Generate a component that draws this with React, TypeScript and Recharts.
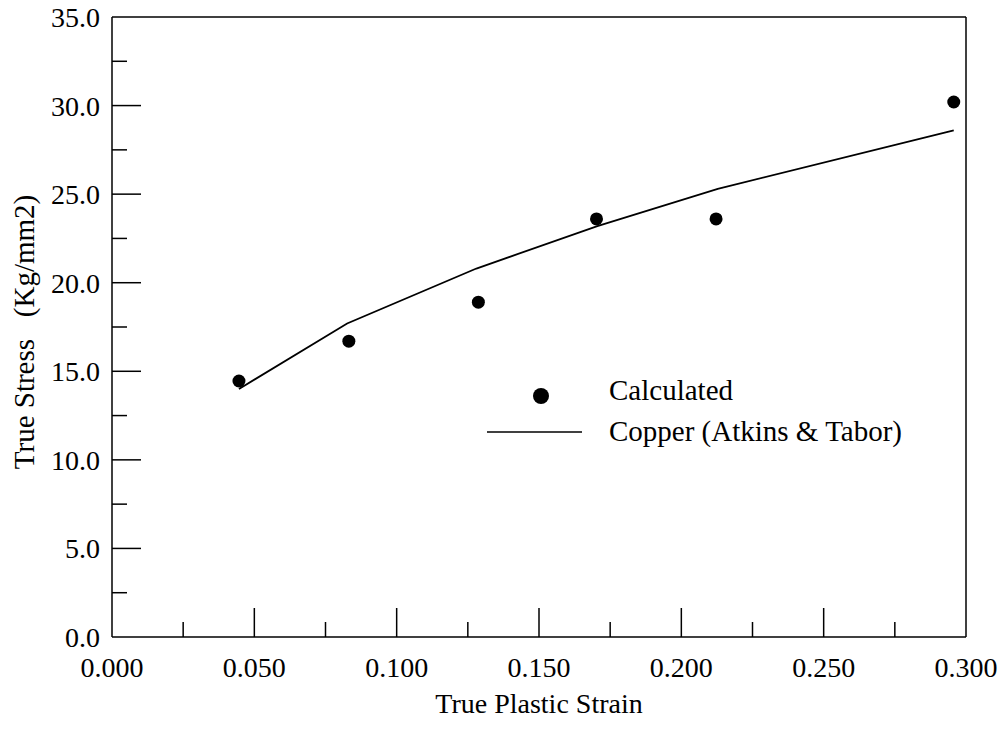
import { ComposedChart, Line, Scatter, XAxis, YAxis, ReferenceLine, Legend, Label } from "recharts";

const FONT = '"Liberation Serif", "Times New Roman", Times, serif';

// calculated true stress (kg/mm2) against true plastic strain
const calcStrain = [0.0446, 0.0832, 0.1287, 0.1702, 0.2122, 0.2957];
const calcStress = [14.45, 16.7, 18.9, 23.6, 23.6, 30.2];

// copper reference curve, Atkins & Tabor
const copperStrain = [0.0446, 0.0826, 0.128, 0.1705, 0.2128, 0.2957];
const copperStress = [14.0, 17.7, 20.8, 23.2, 25.3, 28.6];

// all tick positions; labelled ones are every 0.050 / 5.0
const xTicks = [0, 0.025, 0.05, 0.075, 0.1, 0.125, 0.15, 0.175, 0.2, 0.225, 0.25, 0.275, 0.3];
const yTicks = [0, 2.5, 5, 7.5, 10, 12.5, 15, 17.5, 20, 22.5, 25, 27.5, 30, 32.5, 35];

const calcData = calcStrain.map((x, i) => ({ x, y: calcStress[i] }));
const copperData = copperStrain.map((x, i) => ({ x, y: copperStress[i] }));

const W = 1008;
const H = 731;

// ticks point inward; only the round values get a label
function XTick({ x, y, payload }: any) {
  const v: number = payload.value;
  const major = Math.round(v * 1000) % 50 === 0;
  const edge = v === 0 || v === 0.3;
  return (
    <g>
      {!edge && <line x1={x} x2={x} y1={y} y2={y - (major ? 29 : 15)} stroke="#000" strokeWidth={1.5} />}
      {major && (
        <text x={x} y={y + 40} textAnchor="middle" fontSize={28} fontFamily={FONT} fill="#000">
          {v.toFixed(3)}
        </text>
      )}
    </g>
  );
}

function YTick({ x, y, payload }: any) {
  const v: number = payload.value;
  const major = Math.round(v * 10) % 50 === 0;
  const edge = v === 0 || v === 35;
  return (
    <g>
      {!edge && <line x1={x} x2={x + (major ? 29 : 15)} y1={y} y2={y} stroke="#000" strokeWidth={1.5} />}
      {major && (
        <text x={x - 12} y={y + 10} textAnchor="end" fontSize={28} fontFamily={FONT} fill="#000">
          {v.toFixed(1)}
        </text>
      )}
    </g>
  );
}

function LegendBox({ payload }: any) {
  const items: any[] = payload ?? [];
  return (
    <svg width={480} height={90} style={{ display: "block" }}>
      {items.map((e) =>
        e.type === "line" ? (
          <g key={e.value}>
            <line x1={17} x2={112} y1={62} y2={62} stroke="#000" strokeWidth={1.5} />
            <text x={139} y={71} fontSize={29} fontFamily={FONT} fill="#000">
              {e.value}
            </text>
          </g>
        ) : (
          <g key={e.value}>
            <circle cx={71} cy={26} r={8} fill="#000" />
            <text x={139} y={30} fontSize={29} fontFamily={FONT} fill="#000">
              {e.value}
            </text>
          </g>
        )
      )}
    </svg>
  );
}

export default function App() {
  return (
    <div style={{ position: "absolute", left: 0, top: 0, background: "#fff" }}>
      <ComposedChart width={W} height={H} margin={{ top: 17, right: 42, bottom: 0, left: 0 }}>
        <XAxis
          dataKey="x"
          type="number"
          domain={[0, 0.3]}
          ticks={xTicks}
          interval={0}
          height={94}
          tickSize={0}
          tickMargin={0}
          tickLine={false}
          tick={<XTick />}
          axisLine={{ stroke: "#000", strokeWidth: 1.5 }}
        >
          <Label
            content={({ viewBox }: any) => {
              const vb = viewBox ?? { x: 112, y: 637, width: 854 };
              return (
                <text x={vb.x + vb.width / 2} y={vb.y + 76} textAnchor="middle" fontSize={28} fontFamily={FONT} fill="#000">
                  True Plastic Strain
                </text>
              );
            }}
          />
        </XAxis>
        <YAxis
          type="number"
          domain={[0, 35]}
          ticks={yTicks}
          interval={0}
          width={112}
          tickSize={0}
          tickMargin={0}
          tickLine={false}
          tick={<YTick />}
          axisLine={{ stroke: "#000", strokeWidth: 1.5 }}
        >
          <Label
            content={({ viewBox }: any) => {
              const vb = viewBox ?? { x: 0, y: 17, height: 620 };
              const cx = vb.x + 24;
              const cy = vb.y + vb.height / 2 + 5;
              return (
                <text
                  x={cx}
                  y={cy}
                  transform={`rotate(-90 ${cx} ${cy})`}
                  textAnchor="middle"
                  dominantBaseline="central"
                  fontSize={29}
                  fontFamily={FONT}
                  fill="#000"
                >
                  {"True Stress\u00a0\u00a0\u00a0(Kg/mm2)"}
                </text>
              );
            }}
          />
        </YAxis>
        <ReferenceLine y={35} stroke="#000" strokeWidth={1.5} />
        <ReferenceLine x={0.3} stroke="#000" strokeWidth={1.5} />
        <Scatter
          name="Calculated"
          data={calcData}
          dataKey="y"
          fill="#000"
          legendType="circle"
          isAnimationActive={false}
          shape={(p: any) => <circle cx={p.cx} cy={p.cy} r={6.5} fill="#000" />}
        />
        <Line
          name="Copper (Atkins & Tabor)"
          data={copperData}
          dataKey="y"
          type="linear"
          stroke="#000"
          strokeWidth={1.8}
          dot={false}
          legendType="line"
          isAnimationActive={false}
        />
        <Legend
          layout="horizontal"
          verticalAlign="middle"
          align="center"
          content={<LegendBox />}
          wrapperStyle={{ left: 470, top: 370, width: 480, height: 90 }}
        />
      </ComposedChart>
    </div>
  );
}
